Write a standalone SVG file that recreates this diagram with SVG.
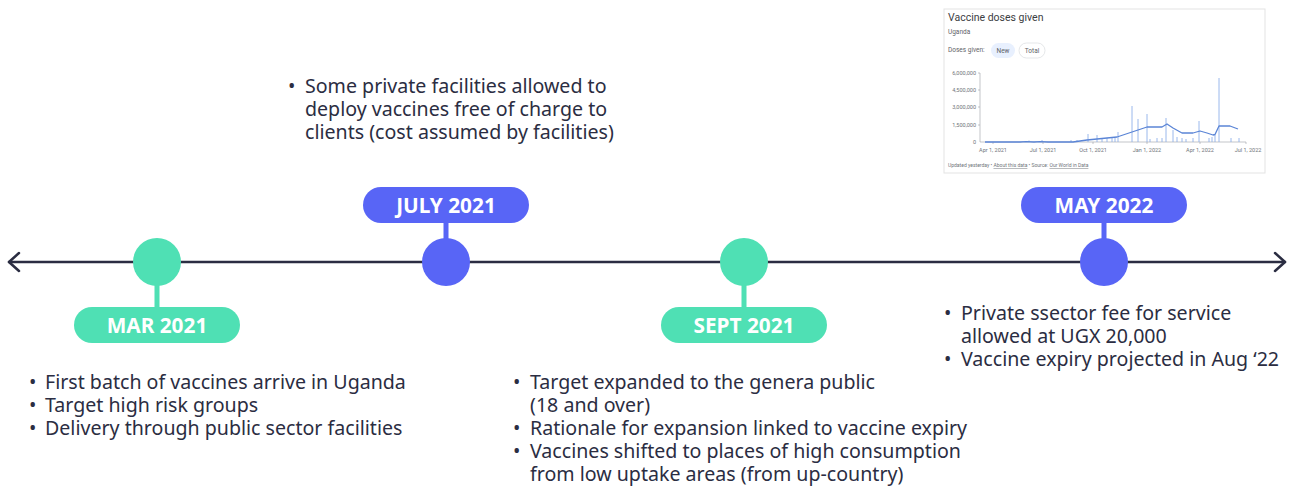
<svg xmlns="http://www.w3.org/2000/svg" width="1292" height="487" viewBox="0 0 1292 487">
  <defs>
    <style>
      .axis { stroke: #2b2d42; stroke-width: 2.5; fill: none; stroke-linecap: round; stroke-linejoin: round; }
      .green { fill: #4fe0b4; }
      .blue { fill: #5865f6; }
      .pill-text { font-family: "Noto Sans", "Open Sans", sans-serif; font-weight: 700; font-size: 20.8px; fill: #ffffff; text-anchor: middle; }
      .note { font-family: "Noto Sans", "Open Sans", sans-serif; font-size: 19.6px; fill: #2b2d42; }
      .c-title { font-family: Roboto, "Liberation Sans", sans-serif; font-size: 10.5px; fill: #3c4043; }
      .c-small { font-family: Roboto, "Liberation Sans", sans-serif; font-size: 6.5px; fill: #5f6368; }
      .c-tick { font-family: Roboto, "Liberation Sans", sans-serif; font-size: 5.5px; fill: #70757a; }
      .c-foot { font-family: Roboto, "Liberation Sans", sans-serif; font-size: 5px; fill: #70757a; }
      .spike { stroke: #8fb0ea; stroke-width: 0.9; }
    </style>
  </defs>
  <rect width="1292" height="487" fill="#ffffff"/>

  <!-- timeline axis with open arrowheads at both ends -->
  <g id="connectors">
    <line class="axis" x1="9" y1="262" x2="1285" y2="262"/>
    <polyline class="axis" points="19,253 9,262 19,271"/>
    <polyline class="axis" points="1275,253 1285,262 1275,271"/>
    <rect class="green" x="154.5" y="284" width="5" height="24"/>
    <rect class="blue" x="443.5" y="222" width="5" height="18"/>
    <rect class="green" x="741.5" y="284" width="5" height="24"/>
    <rect class="blue" x="1101.5" y="222" width="5" height="18"/>
  </g>

  <!-- March 2021 -->
  <g id="mar-2021">
    <circle class="green" cx="157" cy="262" r="24"/>
    <rect class="green" x="74" y="307" width="166" height="36" rx="18"/>
    <text class="pill-text" x="157" y="332.5">MAR 2021</text>
    <text class="note">
      <tspan x="29" y="389">•</tspan><tspan x="45" y="389">First batch of vaccines arrive in Uganda</tspan>
      <tspan x="29" y="412">•</tspan><tspan x="45" y="412">Target high risk groups</tspan>
      <tspan x="29" y="435">•</tspan><tspan x="45" y="435">Delivery through public sector facilities</tspan>
    </text>
  </g>

  <!-- July 2021 -->
  <g id="july-2021">
    <circle class="blue" cx="446" cy="262" r="24"/>
    <rect class="blue" x="363" y="187" width="166" height="36" rx="18"/>
    <text class="pill-text" x="446" y="212.5">JULY 2021</text>
    <text class="note">
      <tspan x="288" y="93">•</tspan><tspan x="305" y="93">Some private facilities allowed to</tspan>
      <tspan x="305" y="116">deploy vaccines free of charge to</tspan>
      <tspan x="305" y="139">clients (cost assumed by facilities)</tspan>
    </text>
  </g>

  <!-- September 2021 -->
  <g id="sept-2021">
    <circle class="green" cx="744" cy="262" r="24"/>
    <rect class="green" x="661" y="307" width="166" height="36" rx="18"/>
    <text class="pill-text" x="744" y="332.5">SEPT 2021</text>
    <text class="note">
      <tspan x="513" y="389">•</tspan><tspan x="530" y="389">Target expanded to the genera public</tspan>
      <tspan x="530" y="412">(18 and over)</tspan>
      <tspan x="513" y="435">•</tspan><tspan x="530" y="435">Rationale for expansion linked to vaccine expiry</tspan>
      <tspan x="513" y="458">•</tspan><tspan x="530" y="458">Vaccines shifted to places of high consumption</tspan>
      <tspan x="530" y="481">from low uptake areas (from up-country)</tspan>
    </text>
  </g>

  <!-- May 2022 -->
  <g id="may-2022">
    <circle class="blue" cx="1104" cy="262" r="24"/>
    <rect class="blue" x="1021" y="187" width="166" height="36" rx="18"/>
    <text class="pill-text" x="1104" y="212.5">MAY 2022</text>
    <text class="note">
      <tspan x="944" y="320">•</tspan><tspan x="961" y="320">Private ssector fee for service</tspan>
      <tspan x="961" y="343">allowed at UGX 20,000</tspan>
      <tspan x="944" y="366">•</tspan><tspan x="961" y="366">Vaccine expiry projected in Aug ‘22</tspan>
    </text>
  </g>

  <!-- doses chart card -->
  <g id="doses-chart">
    <rect x="944" y="9" width="321" height="164" fill="#ffffff" stroke="#e3e3e3" stroke-width="1"/>
    <text class="c-title" x="948" y="21">Vaccine doses given</text>
    <text class="c-small" x="948" y="34" font-size="6px" fill="#3c4043">Uganda</text>
    <text class="c-small" x="948" y="52">Doses given:</text>
    <rect x="991" y="43" width="24" height="15" rx="7.5" fill="#e8f0fe"/>
    <text class="c-small" x="1003" y="52.5" text-anchor="middle" fill="#1a73e8">New</text>
    <rect x="1019" y="43" width="26" height="15" rx="7.5" fill="#ffffff" stroke="#dadce0" stroke-width="0.7"/>
    <text class="c-small" x="1032" y="52.5" text-anchor="middle" fill="#3c4043">Total</text>

    <!-- y axis -->
    <g class="c-tick" text-anchor="end">
      <text x="976" y="75">6,000,000</text>
      <text x="976" y="92">4,500,000</text>
      <text x="976" y="109">3,000,000</text>
      <text x="976" y="127">1,500,000</text>
      <text x="976" y="144">0</text>
    </g>
    <g stroke="#9aa0a6" stroke-width="0.6" fill="none">
      <line x1="980" y1="73" x2="980" y2="142"/>
      <line x1="978" y1="73" x2="980" y2="73"/>
      <line x1="978" y1="90" x2="980" y2="90"/>
      <line x1="978" y1="107" x2="980" y2="107"/>
      <line x1="978" y1="125" x2="980" y2="125"/>
      <line x1="980" y1="142" x2="1246" y2="142"/>
      <line x1="993" y1="142" x2="993" y2="144"/>
      <line x1="1043" y1="142" x2="1043" y2="144"/>
      <line x1="1093" y1="142" x2="1093" y2="144"/>
      <line x1="1147" y1="142" x2="1147" y2="144"/>
      <line x1="1200" y1="142" x2="1200" y2="144"/>
      <line x1="1246" y1="142" x2="1246" y2="144"/>
    </g>
    <g class="c-tick" text-anchor="middle">
      <text x="993" y="152">Apr 1, 2021</text>
      <text x="1043" y="152">Jul 1, 2021</text>
      <text x="1093" y="152">Oct 1, 2021</text>
      <text x="1147" y="152">Jan 1, 2022</text>
      <text x="1200" y="152">Apr 1, 2022</text>
      <text x="1248" y="152">Jul 1, 2022</text>
    </g>

    <!-- daily doses -->
    <g class="spike">
      <line x1="1029" y1="142" x2="1029" y2="140.5"/>
      <line x1="1042" y1="142" x2="1042" y2="140"/>
      <line x1="1071" y1="142" x2="1071" y2="140"/>
      <line x1="1077" y1="142" x2="1077" y2="140"/>
      <line x1="1088" y1="142" x2="1088" y2="134"/>
      <line x1="1097" y1="142" x2="1097" y2="135"/>
      <line x1="1102" y1="142" x2="1102" y2="138"/>
      <line x1="1107" y1="142" x2="1107" y2="138"/>
      <line x1="1112" y1="142" x2="1112" y2="138"/>
      <line x1="1115" y1="142" x2="1115" y2="138"/>
      <line x1="1118" y1="142" x2="1118" y2="132"/>
      <line x1="1132" y1="142" x2="1132" y2="106"/>
      <line x1="1138" y1="142" x2="1138" y2="119"/>
      <line x1="1147" y1="142" x2="1147" y2="114"/>
      <line x1="1150" y1="142" x2="1150" y2="139"/>
      <line x1="1157" y1="142" x2="1157" y2="138"/>
      <line x1="1162" y1="142" x2="1162" y2="138"/>
      <line x1="1166" y1="142" x2="1166" y2="118"/>
      <line x1="1173" y1="142" x2="1173" y2="130"/>
      <line x1="1177" y1="142" x2="1177" y2="137"/>
      <line x1="1182" y1="142" x2="1182" y2="138"/>
      <line x1="1186" y1="142" x2="1186" y2="139"/>
      <line x1="1193" y1="142" x2="1193" y2="138"/>
      <line x1="1199" y1="142" x2="1199" y2="121"/>
      <line x1="1209" y1="142" x2="1209" y2="138"/>
      <line x1="1212" y1="142" x2="1212" y2="137"/>
      <line x1="1215" y1="142" x2="1215" y2="135"/>
      <line x1="1219" y1="142" x2="1219" y2="78"/>
      <line x1="1231" y1="142" x2="1231" y2="138"/>
      <line x1="1239" y1="142" x2="1239" y2="138"/>
    </g>
    <!-- seven-day average -->
    <polyline fill="none" stroke="#5b85d6" stroke-width="1.3" stroke-linejoin="round" points="985,142 1020,142 1026,141.6 1034,142 1040,141.6 1048,142 1073,142 1087,140 1117,137 1132,132 1147,127 1162,127 1167,124 1173,128 1182,133 1193,133 1200,131 1207,133 1213,135 1215,134.5 1219,126 1230,126 1238,129"/>

    <text class="c-foot" x="948" y="167">Updated yesterday • <tspan text-decoration="underline">About this data</tspan> • Source: <tspan text-decoration="underline">Our World in Data</tspan></text>
  </g>
</svg>
